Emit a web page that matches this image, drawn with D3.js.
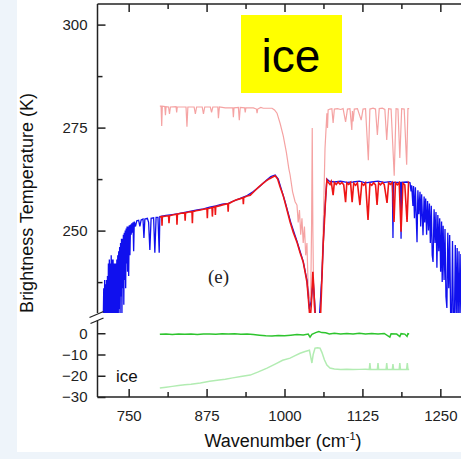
<!DOCTYPE html>
<html><head><meta charset="utf-8">
<script src="https://cdn.jsdelivr.net/npm/d3@7"></script>
<style>
html,body{margin:0;padding:0;background:#eef4fa;}
svg{display:block;}
</style></head>
<body>
<svg id="c" width="461" height="459"></svg>
<script>
// ---------- data (wavenumber cm^-1, value) ----------
const xTicksMajor = [750, 875, 1000, 1125, 1250];
const xTicksMinor = [812.5, 937.5, 1062.5, 1187.5];
const yTicksUpperMajor = [250, 275, 300];
const yTicksUpperMinor = [237.5, 262.5, 287.5];
const yTicksLower = [0, -10, -20, -30];

// light pink (upper) spectrum
const pinkSeries = [[800,280.2],[802,280.2],[803,275.4],[804,280.2],[808,280.1],[809,278],[810,280.1],[814,280],[815.5,278.3],[817,280],[826,280.1],[827,278.7],[828,280],[842,280],[843.5,275.2],[845,280],[855,280],[857,278.3],[859,280],[868,280],[870,278.3],[872,280],[881,280],[883,278.7],[885,280],[893,280],[894,277.3],[895.5,280],[900,279.9],[905,279.8],[917,279.8],[918,277.5],[919,279.8],[926,279.9],[927.5,276.8],[929,279.9],[936,279.8],[937,278.7],[938,279.8],[950,279.8],[955,279.5],[956,278.5],[957,279.5],[962,279.9],[966,279.7],[973,279.7],[980,279.7],[984,279.3],[988,278.5],[993,276],[998,273],[1003,269],[1007,265],[1009,263.5],[1013,259.4],[1017,257],[1020,256.2],[1022,252],[1024,255],[1026,249],[1028,253],[1030,247],[1032,251],[1034,244],[1036,247],[1038,236],[1040,234],[1042,233],[1043.5,252],[1044.5,274.9],[1045.5,250],[1047,232],[1050,228],[1054,228],[1057,229],[1060,240],[1062,250],[1065,270],[1068,278.5],[1069,274.9],[1070,279.3],[1073,279.5],[1076,279.6],[1078,276.1],[1080,279.5],[1085,279.6],[1090,279.4],[1094,279.6],[1098,276.4],[1101,279.5],[1105,279.6],[1108,274.4],[1109,279],[1110,276.5],[1112,279.5],[1117,279.6],[1123,276.8],[1126,279.5],[1130,279.6],[1134.5,267.1],[1137,279.5],[1142,279.7],[1146,279.5],[1149,273.2],[1152,279.6],[1157,279.7],[1161,279.4],[1164,272],[1167,279.6],[1171,279.5],[1176,263.3],[1179,279.6],[1182,279.5],[1185,267.6],[1188,279.6],[1192,279.5],[1196,266],[1198,279.6],[1200,279.6]];

// blue spectrum
const blueSeries = [[709,226],[710,236],[710.7,226],[711.5,238],[712.2,226],[713,237],[713.7,227],[714.5,238],[715.2,226],[716,239],[716.7,228],[717.5,242],[718.2,226],[719,243],[719.7,229],[720.5,242],[721.2,226],[722,244],[722.7,228],[723.5,243],[724.2,226],[725,243],[725.7,230],[726.5,242],[727.2,226],[728,242],[728.7,229],[729.5,242],[730.2,226],[731,243],[731.7,230],[732.5,244],[733.2,226],[734,245],[734.7,231],[735.5,246],[736.2,228],[737,247],[737.7,234],[738.5,248],[739.2,229],[740,248],[740.7,236],[741.5,249],[742.2,232],[743,249.5],[743.7,238],[744.5,250],[745.2,236],[746,250.5],[746.7,242],[747.5,251],[748.2,240],[749,251],[750,239],[751,251.3],[752,244],[753,251.5],[754,249],[755,251.8],[756,249.5],[757,252],[758,245],[759,252.2],[761,251],[763,252.4],[766,252.5],[768,251],[770,252.6],[773,252.8],[774.5,248.2],[776,252.8],[780,253],[782,252],[784,245.3],[786,253],[790,253.1],[792,244.6],[794,253.2],[797,253.2],[799,244.6],[800,253.4],[810,253.7],[820,253.9],[830,254.1],[840,254.4],[850,254.7],[860,255],[870,255.3],[880,255.7],[890,256],[900,256.4],[910,256.6],[920,257.3],[930,257.9],[940,258.5],[950,259.5],[960,260.7],[970,262.1],[978,263.1],[985,263.5],[990,262.5],[995,260],[1000,257.5],[1010,252],[1020,247.4],[1030,242.5],[1036,238],[1040,231],[1043,233],[1046,238],[1050,229],[1056,229],[1060,239],[1064,253],[1068,262.5],[1072,262],[1080,261.8],[1090,262],[1100,261.7],[1110,261.8],[1120,262],[1130,261.6],[1140,261.8],[1150,262],[1160,261.7],[1170,261.9],[1173,261.7],[1174,248.2],[1175,261.7],[1186,261.7],[1187,248],[1188,261.7],[1196,261.8],[1200,261.7],[1201.4,261.6],[1203,259.5],[1204,261],[1206,256],[1207,260.8],[1208.5,253],[1210,260.5],[1211,255],[1212.6,247.2],[1214,259.8],[1215.5,254],[1217.4,259.4],[1218.5,251],[1220,258.8],[1222.2,248.9],[1224,258.3],[1225,252],[1226.5,257.8],[1228,249],[1229.5,257.2],[1231,250],[1232.5,256.6],[1234,247],[1235.5,256],[1237,244],[1238.3,242.4],[1240,255.2],[1241.5,247],[1243,254.5],[1244.5,241],[1246,253.8],[1247.5,245],[1249,253],[1250.5,240],[1252,252.2],[1253,237.5],[1254.5,251.2],[1256,238],[1257.5,250.4],[1259,234],[1260.5,231.2],[1262,249.5],[1263.5,236],[1265,248.9],[1266.5,230],[1268,226],[1269.5,247.5],[1271,228],[1272.5,226],[1274,246.5],[1275.5,229],[1277,245.8],[1278.4,226],[1280,245],[1281.5,228],[1283,244.3],[1284.5,226],[1286,243.5],[1287.5,226],[1289,242.8],[1290.5,226]];

// red spectrum
const redSeries = [[800,253.3],[803,253.4],[803.5,251.2],[804,253.4],[808,253.5],[814,253.6],[814.7,251.8],[815.5,253.6],[820,253.8],[827,254],[827.5,251.4],[828.2,254],[834,254.2],[840,254.3],[840.6,252.4],[841.2,254.3],[846,254.5],[851.6,254.6],[852.2,251.8],[852.8,254.6],[858,254.8],[865,255],[870,255.2],[875.6,255.3],[876.2,253],[876.8,255.3],[883.7,255.6],[884.3,253.4],[885,255.6],[888.5,255.8],[889.1,253.8],[889.7,255.8],[895,256],[902,256.3],[909,256.5],[909.6,254.6],[910.2,256.5],[916,257],[922,257.4],[928,257.7],[933.4,258],[934,256.4],[934.6,258],[940,258.4],[945,258.6],[952,259.6],[958,260.5],[965,261.4],[970,262],[976,262.6],[981,263],[985,263.3],[989,262.5],[993,260.6],[997.7,258.6],[1003,255.6],[1009,252.1],[1014,249.6],[1020,247.2],[1025,244.6],[1030,242.4],[1033,240],[1036,237.5],[1038,234],[1040,230.2],[1041,228],[1043,232],[1045.5,240],[1047,236],[1049,230],[1050,228],[1052,228],[1054,227],[1056,228],[1058,230],[1060,238],[1062,246.5],[1064,252],[1066,258],[1068,262.3],[1070,261.8],[1073,261.2],[1075,261.9],[1078,258.6],[1080,261.7],[1083,261.2],[1086,261.8],[1089,261.3],[1092,261.7],[1095,261.1],[1098,256.9],[1100,261.6],[1103,261.2],[1106,261.7],[1108.5,256.9],[1111,261.5],[1114,261],[1117,261.6],[1121,256.2],[1124,261.5],[1127,261],[1130,261.6],[1134,252.6],[1137,261.4],[1140,261],[1143,261.6],[1146,261.1],[1148.5,256.2],[1151,261.6],[1154,261.1],[1157,261.7],[1160,261.2],[1164.5,256.7],[1167,261.6],[1170,261.2],[1173,261.7],[1175.7,252.1],[1178,261.6],[1181,261.1],[1184,261.6],[1187,249.7],[1190,261.5],[1193,261.1],[1196.6,252.1],[1199,261.6],[1200,261.4]];

// green difference (lower panel)
const greenSeries = [[800,-0.5],[810,-0.3],[820,-0.6],[830,-0.4],[840,-0.5],[850,-0.3],[860,-0.6],[870,-0.4],[880,-0.3],[890,-0.5],[900,-0.2],[910,-0.4],[920,-0.2],[930,-0.5],[940,-0.3],[950,-0.6],[960,-0.9],[970,-1.2],[980,-1.3],[990,-1.1],[1000,-1.2],[1010,-0.9],[1020,-0.6],[1030,-0.8],[1038,-0.4],[1041,-1.8],[1044,-0.5],[1050,0.3],[1055,0.8],[1060,0.3],[1066,0.2],[1072,-0.3],[1080,0],[1090,-0.3],[1100,-0.1],[1110,-0.3],[1120,0],[1130,-0.4],[1140,-0.1],[1150,-0.3],[1160,-0.1],[1169,-1.8],[1171,-0.2],[1180,-0.4],[1185,-1.6],[1187,-0.2],[1193,-0.4],[1196.6,-1.5],[1198,-0.2],[1200,-0.3]];

// light green difference (lower panel)
const lightGreenSeries = [[800,-25.8],[810,-25.4],[820,-25],[830,-24.6],[840,-24.2],[850,-24],[865,-23.4],[880,-22.6],[895,-22],[905,-21.6],[917,-21],[930,-20.4],[945,-19.7],[958,-18.2],[972,-16.4],[985,-14.5],[997,-12.7],[1009,-11.7],[1017,-10.5],[1025,-9.4],[1033,-8.6],[1040,-8],[1042,-11],[1044,-14],[1046,-10],[1049,-7],[1053,-6.8],[1057,-7],[1060,-9],[1064,-12.5],[1068,-15],[1073,-16.4],[1080,-16.8],[1090,-17],[1100,-16.9],[1110,-17.1],[1120,-17],[1130,-16.9],[1136,-17],[1137,-14],[1138,-17],[1149,-17],[1150,-14],[1151,-17],[1163,-17],[1164,-14],[1165,-17],[1173,-17],[1174,-14.5],[1175,-17],[1184,-17],[1185,-14],[1186,-17],[1196,-17],[1197,-14],[1198,-17],[1200,-17]];

// ---------- drawing ----------
const svg = d3.select("#c");
const L = 97.5, R = 471.5, T = 4, UB = 313, LT = 320.5, B = 397;

svg.append("rect").attr("x",17).attr("y",0).attr("width",444).attr("height",452).attr("fill","#fff");

const x = d3.scaleLinear().domain([700,1300]).range([L,R]);
const yU = d3.scaleLinear().domain([230,305]).range([UB,T]);
const yL = d3.scaleLinear().domain([-30,6]).range([B,LT]);

const defs = svg.append("defs");
defs.append("clipPath").attr("id","cu").append("rect").attr("x",L).attr("y",T).attr("width",R-L).attr("height",UB-T);
defs.append("clipPath").attr("id","cl").append("rect").attr("x",L).attr("y",LT).attr("width",R-L).attr("height",B-LT);

const lineU = d3.line().x(d=>x(d[0])).y(d=>yU(d[1]));
const lineL = d3.line().x(d=>x(d[0])).y(d=>yL(d[1]));

const gU = svg.append("g").attr("clip-path","url(#cu)");
gU.append("path").datum(pinkSeries).attr("d",lineU).attr("fill","none").attr("stroke","#f5a3a3").attr("stroke-width",1.2);
gU.append("path").datum(blueSeries).attr("d",lineU).attr("fill","none").attr("stroke","#1010ee").attr("stroke-width",1.3);
gU.append("path").datum(redSeries).attr("d",lineU).attr("fill","none").attr("stroke","#ee1515").attr("stroke-width",1.6);

const gL = svg.append("g").attr("clip-path","url(#cl)");
gL.append("path").datum(lightGreenSeries).attr("d",lineL).attr("fill","none").attr("stroke","#b2ecb2").attr("stroke-width",1.5);
gL.append("path").datum(greenSeries).attr("d",lineL).attr("fill","none").attr("stroke","#2ec42e").attr("stroke-width",1.5);

// frame
const ax = svg.append("g").attr("stroke","#222").attr("stroke-width",1.5).attr("fill","none");
ax.append("line").attr("x1",L).attr("x2",R).attr("y1",T).attr("y2",T);
ax.append("line").attr("x1",L).attr("x2",R).attr("y1",B).attr("y2",B);
ax.append("line").attr("x1",L).attr("x2",L).attr("y1",T).attr("y2",UB);
ax.append("line").attr("x1",L).attr("x2",L).attr("y1",LT).attr("y2",B);
ax.append("line").attr("x1",R).attr("x2",R).attr("y1",T).attr("y2",B);
// break marks
ax.append("line").attr("x1",89.5).attr("y1",317.5).attr("x2",103.5).attr("y2",311.5).attr("stroke-width",1.3);
ax.append("line").attr("x1",90.5).attr("y1",323.5).attr("x2",103.5).attr("y2",318).attr("stroke-width",1.3);

// axes through d3 axis generators
const fontTick = "Liberation Sans, Arial, sans-serif";
function styleAxis(g){
  g.select(".domain").remove();
  g.selectAll(".tick line").attr("stroke","#222").attr("stroke-width",1.5);
  g.selectAll(".tick text").attr("fill","#222").style("font-family",fontTick).style("font-size","15px");
}
// bottom
svg.append("g").attr("transform",`translate(0,${B})`)
  .call(d3.axisBottom(x).tickValues(xTicksMajor).tickSize(-8).tickPadding(13).tickFormat(d3.format("d"))).call(styleAxis);
svg.append("g").attr("transform",`translate(0,${B})`)
  .call(d3.axisBottom(x).tickValues(xTicksMinor).tickSize(-5).tickFormat("")).call(styleAxis);
// top
svg.append("g").attr("transform",`translate(0,${T})`)
  .call(d3.axisTop(x).tickValues(xTicksMajor).tickSize(-8).tickFormat("")).call(styleAxis);
svg.append("g").attr("transform",`translate(0,${T})`)
  .call(d3.axisTop(x).tickValues(xTicksMinor).tickSize(-5).tickFormat("")).call(styleAxis);
// left upper
svg.append("g").attr("transform",`translate(${L},0)`)
  .call(d3.axisLeft(yU).tickValues(yTicksUpperMajor).tickSize(-8).tickPadding(10).tickFormat(d3.format("d"))).call(styleAxis);
svg.append("g").attr("transform",`translate(${L},0)`)
  .call(d3.axisLeft(yU).tickValues(yTicksUpperMinor).tickSize(-5).tickFormat("")).call(styleAxis);
// left lower
svg.append("g").attr("transform",`translate(${L},0)`)
  .call(d3.axisLeft(yL).tickValues(yTicksLower).tickSize(-8).tickPadding(10).tickFormat(d3.format("d"))).call(styleAxis);
// right
svg.append("g").attr("transform",`translate(${R},0)`)
  .call(d3.axisRight(yU).tickValues(yTicksUpperMajor).tickSize(-8).tickFormat("")).call(styleAxis);
svg.append("g").attr("transform",`translate(${R},0)`)
  .call(d3.axisRight(yU).tickValues(yTicksUpperMinor).tickSize(-5).tickFormat("")).call(styleAxis);
svg.append("g").attr("transform",`translate(${R},0)`)
  .call(d3.axisRight(yL).tickValues(yTicksLower).tickSize(-8).tickFormat("")).call(styleAxis);

// titles
svg.append("text").attr("x",283).attr("y",447).attr("text-anchor","middle")
  .style("font-family",fontTick).style("font-size","18px").attr("fill","#111")
  .html('Wavenumber (cm<tspan dy="-7" font-size="11px">-1</tspan><tspan dy="7">)</tspan>');
svg.append("text").attr("transform","translate(33,203) rotate(-90)").attr("text-anchor","middle")
  .style("font-family",fontTick).style("font-size","18px").attr("fill","#111")
  .text("Brightness Temperature (K)");

// annotations
svg.append("rect").attr("x",241).attr("y",15).attr("width",101).attr("height",78).attr("fill","#ffff00");
svg.append("text").attr("x",291).attr("y",72).attr("text-anchor","middle")
  .style("font-family",fontTick).style("font-size","46px").attr("fill","#000").text("ice");
svg.append("text").attr("x",208).attr("y",283)
  .style("font-family","Liberation Serif, Times New Roman, serif").style("font-size","19px").attr("fill","#222").text("(e)");
svg.append("text").attr("x",116).attr("y",382)
  .style("font-family",fontTick).style("font-size","17px").attr("fill","#111").text("ice");
</script>
</body></html>
